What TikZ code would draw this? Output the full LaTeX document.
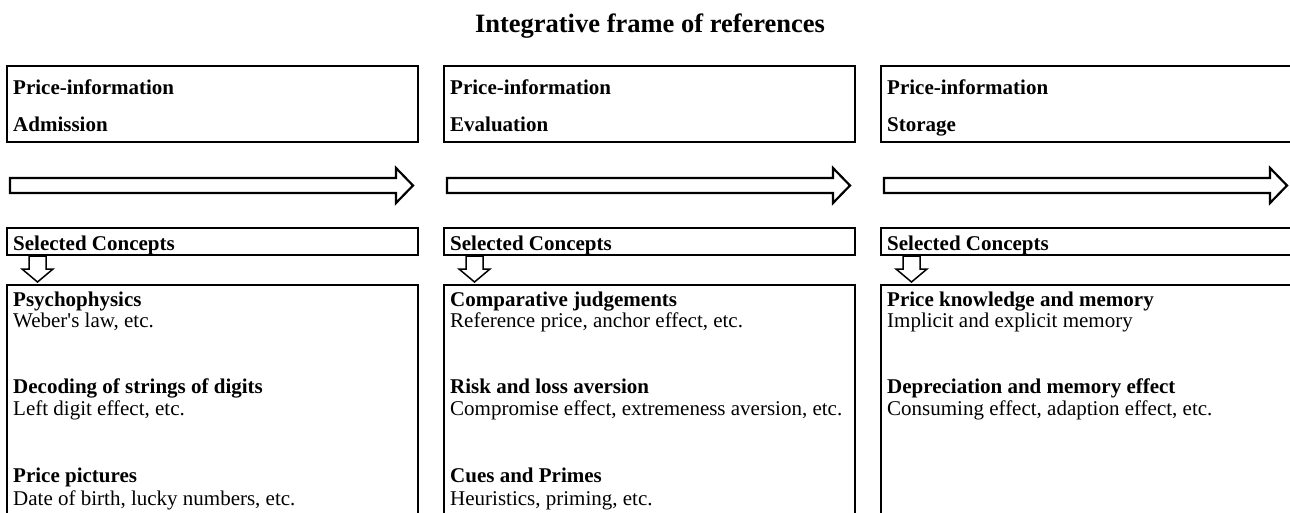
\documentclass[tikz,border=0pt]{standalone}
\usepackage{fontspec}
\setmainfont{Liberation Serif}
\tikzset{
  frame/.style={draw,line width=2.5pt},
  txt/.style={anchor=base west,inner sep=0pt,font=\fontsize{21}{24}\selectfont},
  hd/.style={txt,font=\fontsize{21}{24}\selectfont\bfseries},
  blockarrow/.style={draw,line width=2.2pt,fill=white,line join=miter},
  downarrow/.style={draw,line width=1.5pt,fill=white,line join=miter},
}
\begin{document}
\begin{tikzpicture}[line cap=butt,x=1pt,y=-1pt]
	\useasboundingbox (0,0) rectangle (1290,512);
	\node[anchor=base,inner sep=0pt,font=\fontsize{26.5}{30}\selectfont\bfseries] (title) at (650,32) {Integrative frame of references};
	% three stages, one column each
	\foreach \c/\stage [count=\i] in {7/Admission,444/Evaluation,881/Storage}{
		\draw[frame] (\c,66) rectangle ++(411,76);
		\node[hd] (head\i) at (\c+6,94) {Price-information};
		\node[hd] (stage\i) at (\c+6,131) {\stage};
		% process arrow
		\draw[blockarrow] (\c+3,178) -- (\c+389,178) -- (\c+389,168) -- (\c+406,185.5) -- (\c+389,203) -- (\c+389,193) -- (\c+3,193) -- cycle;
		\draw[frame] (\c,228) rectangle ++(411,27);
		\node[hd] (sel\i) at (\c+6,250) {Selected Concepts};
		\draw[downarrow] (\c+22,256) -- (\c+39,256) -- (\c+39,269) -- (\c+46,269) -- (\c+30.5,282) -- (\c+15,269) -- (\c+22,269) -- cycle;
		\draw[frame] (\c,285) rectangle ++(411,240);
	}
	% admission concepts
	\node[hd] (psy) at (13,306) {Psychophysics};
	\node[txt] (psyx) at (13,327) {Weber\textquotesingle s law, etc.};
	\node[hd] (dec) at (13,393) {Decoding of strings of digits};
	\node[txt] (decx) at (13,415) {Left digit effect, etc.};
	\node[hd] (pic) at (13,482) {Price pictures};
	\node[txt] (picx) at (13,505) {Date of birth, lucky numbers, etc.};
	% evaluation concepts
	\node[hd] (cmp) at (450,306) {Comparative judgements};
	\node[txt] (cmpx) at (450,327) {Reference price, anchor effect, etc.};
	\node[hd] (risk) at (450,393) {Risk and loss aversion};
	\node[txt] (riskx) at (450,415) {Compromise effect, extremeness aversion, etc.};
	\node[hd] (cue) at (450,482) {Cues and Primes};
	\node[txt] (cuex) at (450,505) {Heuristics, priming, etc.};
	% storage concepts
	\node[hd] (know) at (887,306) {Price knowledge and memory};
	\node[txt] (knowx) at (887,327) {Implicit and explicit memory};
	\node[hd] (dep) at (887,393) {Depreciation and memory effect};
	\node[txt] (depx) at (887,415) {Consuming effect, adaption effect, etc.};
\end{tikzpicture}
\end{document}
